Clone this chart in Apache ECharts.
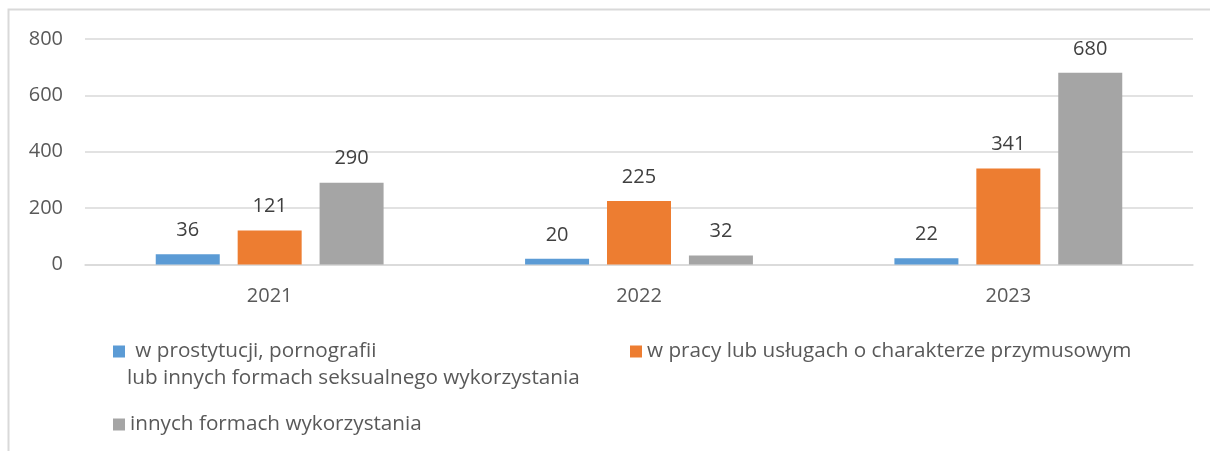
<!DOCTYPE html>
<html>
<head>
<meta charset="utf-8">
<script src="https://cdn.jsdelivr.net/npm/echarts@6/dist/echarts.min.js"></script>
<style>html,body{margin:0;padding:0;background:#fff}#c{width:1210px;height:451px}</style>
</head>
<body>
<div id="c"></div>
<script>
const categories = ['2021', '2022', '2023'];
const seriesNames = [
  'w prostytucji, pornografii lub innych formach seksualnego wykorzystania',
  'w pracy lub usługach o charakterze przymusowym',
  'innych formach wykorzystania'
];
const prostytucja = [36, 20, 22];
const praca = [121, 225, 341];
const inne = [290, 32, 680];
const yTicks = [0, 200, 400, 600, 800];

const FONT = '"Open Sans", "Noto Sans", sans-serif';
const TXT = '#595959';
const colors = ['#5B9BD5', '#ED7D31', '#A5A5A5'];
const values = [prostytucja, praca, inne];

const chart = echarts.init(document.getElementById('c'));
const legendText = {fontFamily: FONT, fontSize: 20.7, color: TXT};
chart.setOption({
  animation: false,
  textStyle: {fontFamily: FONT},
  grid: {left: 85, right: 17, top: 39, bottom: 186.5, containLabel: false},
  graphic: [
    {type: 'rect', shape: {x: 8.5, y: 9.5, width: 1400, height: 600}, style: {fill: 'none', stroke: '#D9D9D9', lineWidth: 2}, silent: true},
    {type: 'text', left: 127, top: 368, style: {text: 'lub innych formach seksualnego wykorzystania', fontFamily: FONT, fontSize: 20.7, fill: TXT}}
  ],
  legend: [
    {left: 108, top: 336, itemWidth: 12, itemHeight: 12, itemGap: 4, icon: 'rect', data: [seriesNames[0]], textStyle: legendText, formatter: () => ' w prostytucji, pornografii'},
    {left: 625, top: 336, itemWidth: 12, itemHeight: 12, icon: 'rect', data: [seriesNames[1]], textStyle: legendText},
    {left: 108, top: 409, itemWidth: 12, itemHeight: 12, icon: 'rect', data: [seriesNames[2]], textStyle: legendText}
  ],
  xAxis: {
    type: 'category', data: categories,
    axisLine: {lineStyle: {color: '#D9D9D9', width: 1.5}},
    axisTick: {show: false},
    axisLabel: {color: TXT, fontSize: 20, fontFamily: FONT, margin: 22}
  },
  yAxis: {
    type: 'value', min: 0, max: 800, interval: 200,
    axisLine: {show: false}, axisTick: {show: false},
    splitLine: {lineStyle: {color: '#D9D9D9', width: 1.5}},
    axisLabel: {color: TXT, fontSize: 20, fontFamily: FONT, margin: 22,
      formatter: v => yTicks.includes(v) ? String(v) : ''}
  },
  series: seriesNames.map((name, i) => ({
    name, type: 'bar', data: values[i],
    barWidth: 64, barGap: '28%',
    itemStyle: {color: colors[i]},
    label: {show: true, position: 'top', distance: 14, color: '#404040', fontSize: 20, fontFamily: FONT}
  }))
});
</script>
</body>
</html>
